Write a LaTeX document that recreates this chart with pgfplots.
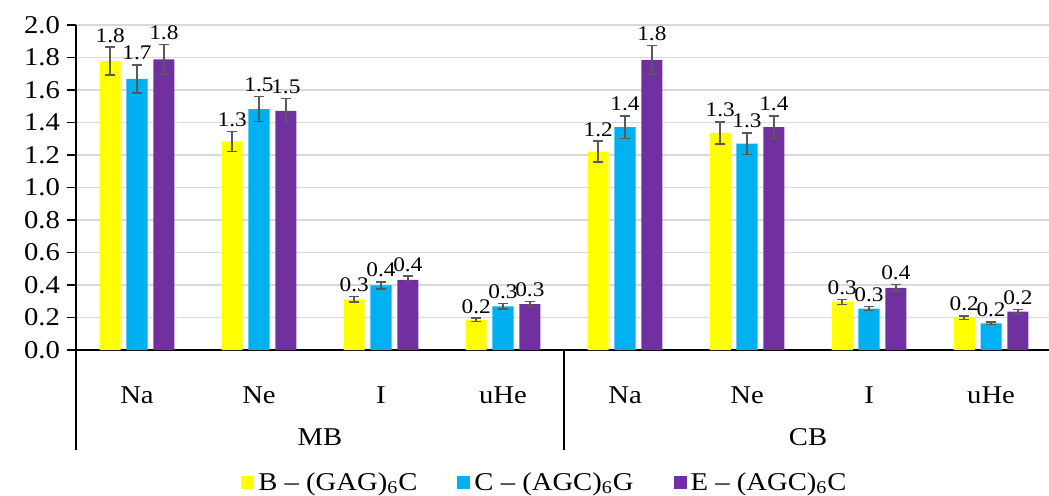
\documentclass[border=0pt]{standalone}
\usepackage{fontspec}
\setmainfont{Liberation Serif}[FakeStretch=1.12]
\usepackage{pgfplots}
\usepackage{pgfplotstable}
\pgfplotsset{compat=1.18}
\definecolor{cB}{HTML}{FFFF00}
\definecolor{cC}{HTML}{00B0F0}
\definecolor{cE}{HTML}{7030A0}
\definecolor{errg}{HTML}{595959}
\definecolor{gridg}{HTML}{D9D9D9}

\pgfplotstableread{
x y e
0 1.778 0.086
1 1.284 0.062
2 0.312 0.017
3 0.185 0.011
4 1.221 0.064
5 1.336 0.067
6 0.296 0.015
7 0.199 0.011
}\dataB
\pgfplotstableread{
x y e
0 1.668 0.087
1 1.483 0.077
2 0.398 0.022
3 0.269 0.016
4 1.371 0.069
5 1.270 0.066
6 0.255 0.013
7 0.164 0.008
}\dataC
\pgfplotstableread{
x y e
0 1.789 0.091
1 1.471 0.076
2 0.431 0.023
3 0.283 0.016
4 1.786 0.089
5 1.371 0.069
6 0.382 0.020
7 0.236 0.013
}\dataE

\begin{document}
\begin{tikzpicture}
\begin{axis}[
  scale only axis,
  width=486.5bp, height=162.5bp,
  xmin=-0.5, xmax=7.475,
  ymin=0, ymax=2,
  ytick={0,0.2,...,2.01},
  axis lines=left,
  axis line style={-, black, line width=0.75bp},
  ymajorgrids,
  grid style={gridg, line width=0.75bp},
  tick align=outside,
  major tick length=4.5bp,
  ytick style={black, line width=0.75bp},
  xtick style={draw=none},
  xtick={0,...,7},
  xticklabels={Na,Ne,I,uHe,Na,Ne,I,uHe},
  xticklabel style={yshift=-10.5bp},
  yticklabel style={/pgf/number format/.cd, fixed, fixed zerofill, precision=1},
  /pgf/number format/assume math mode=true,
  tick label style={font=\fontsize{12.8bp}{14bp}\selectfont},
  clip=false,
  ybar, bar width=0.173,
  error bars/y dir=both, error bars/y explicit,
  error bars/error bar style={errg, line width=0.75bp},
  error bars/error mark options={errg, line width=0.75bp, mark size=2.6bp, rotate=90},
  visualization depends on={\thisrow{e} \as \err},
  nodes near coords={\pgfmathprintnumber[fixed,fixed zerofill,precision=1]{\pgfplotspointmeta}},
  nodes near coords style={font=\fontsize{10.4bp}{12bp}\selectfont, black, yshift=\err*81.25bp, inner sep=2.2bp},
  legend columns=3,
  legend style={draw=none, fill=none, at={(0.483,-0.409)}, anchor=center,
    font=\fontsize{12.8bp}{14bp}\selectfont,
    /tikz/every even column/.append style={column sep=18bp}},
  legend image code/.code={\fill[#1] (0bp,-3.25bp) rectangle (6.5bp,3.25bp);},
]
\addplot[fill=cB, draw=none, bar shift=-0.22] table[x=x, y=y, y error=e]{\dataB};
\addplot[fill=cC, draw=none, bar shift=0] table[x=x, y=y, y error=e]{\dataC};
\addplot[fill=cE, draw=none, bar shift=0.22] table[x=x, y=y, y error=e]{\dataE};
\legend{B – (GAG)\textsubscript{6}C, C – (AGC)\textsubscript{6}G, E – (AGC)\textsubscript{6}C}
\draw[black, line width=0.75bp] (axis cs:-0.5,0) -- ([yshift=-50bp]axis cs:-0.5,0);
\draw[black, line width=0.75bp] (axis cs:3.5,0) -- ([yshift=-50bp]axis cs:3.5,0);
\node[font=\fontsize{12.8bp}{14bp}\selectfont] at ([yshift=-43.5bp]axis cs:1.5,0) {MB};
\node[font=\fontsize{12.8bp}{14bp}\selectfont] at ([yshift=-43.5bp]axis cs:5.5,0) {CB};
\end{axis}
\pgfresetboundingbox
\useasboundingbox (-38bp,-73bp) rectangle (486.5bp,175bp);
\end{tikzpicture}
\end{document}
